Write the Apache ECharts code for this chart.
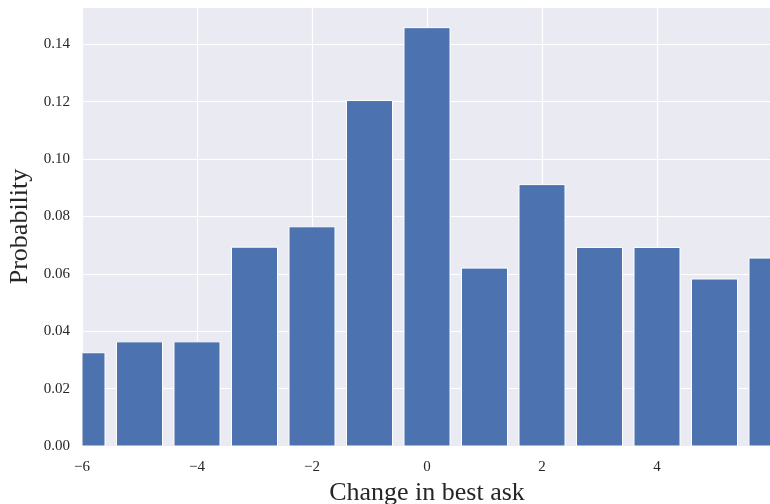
<!DOCTYPE html>
<html>
<head>
<meta charset="utf-8">
<script src="https://cdn.jsdelivr.net/npm/echarts@6/dist/echarts.min.js"></script>
<style>
html,body{margin:0;padding:0;background:#fff;}
#chart{width:770px;height:504px;}
</style>
</head>
<body>
<div id="chart"></div>
<script>
const changes = [-6, -5, -4, -3, -2, -1, 0, 1, 2, 3, 4, 5, 6];
const probabilities = [0.0325, 0.0363, 0.0363, 0.0693, 0.0764, 0.1204, 0.1458, 0.0620, 0.0911, 0.0692, 0.0692, 0.0582, 0.0655];
const xTitle = 'Change in best ask';
const yTitle = 'Probability';

const FONT = '"Liberation Serif", "DejaVu Serif", serif';
const TEXT = '#262626';
const BAR_W = 0.8;

const chart = echarts.init(document.getElementById('chart'), null, {renderer: 'canvas'});
chart.setOption({
  animation: false,
  backgroundColor: '#ffffff',
  grid: {left: 82, top: 7, right: -2, bottom: 58, show: true, backgroundColor: '#EAEAF2', borderWidth: 0,
    containLabel: false, outerBoundsMode: 'none'},
  xAxis: {
    type: 'value', min: -6, max: 6, interval: 2,
    name: xTitle, nameLocation: 'middle', nameGap: 30,
    nameTextStyle: {fontFamily: FONT, fontSize: 26, color: TEXT},
    axisLine: {show: false}, axisTick: {show: false},
    axisLabel: {fontFamily: FONT, fontSize: 15, color: TEXT, margin: 14, showMaxLabel: false,
      formatter: v => String(v).replace('-', '\u2212')},
    splitLine: {show: true, lineStyle: {color: '#ffffff', width: 1.2}}
  },
  yAxis: {
    type: 'value', min: 0, max: 0.153, interval: 0.02,
    name: yTitle, nameLocation: 'middle', nameGap: 45,
    nameTextStyle: {fontFamily: FONT, fontSize: 26, color: TEXT},
    axisLine: {show: false}, axisTick: {show: false},
    axisLabel: {fontFamily: FONT, fontSize: 15, color: TEXT, margin: 12, showMaxLabel: false,
      formatter: v => v.toFixed(2)},
    splitLine: {show: true, lineStyle: {color: '#ffffff', width: 1.2}}
  },
  series: [{
    type: 'custom',
    data: changes.map((c, i) => [c, probabilities[i]]),
    renderItem: function (params, api) {
      const x = api.value(0), y = api.value(1);
      const p0 = api.coord([x - BAR_W / 2, y]);
      const p1 = api.coord([x + BAR_W / 2, 0]);
      const rect = echarts.graphic.clipRectByRect(
        {x: p0[0], y: p0[1], width: p1[0] - p0[0], height: p1[1] - p0[1]},
        {x: params.coordSys.x, y: params.coordSys.y, width: params.coordSys.width, height: params.coordSys.height}
      );
      if (!rect) return null;
      return {type: 'rect', shape: rect, style: {fill: '#4C72B0', stroke: '#ffffff', lineWidth: 1}};
    }
  }]
});
</script>
</body>
</html>
